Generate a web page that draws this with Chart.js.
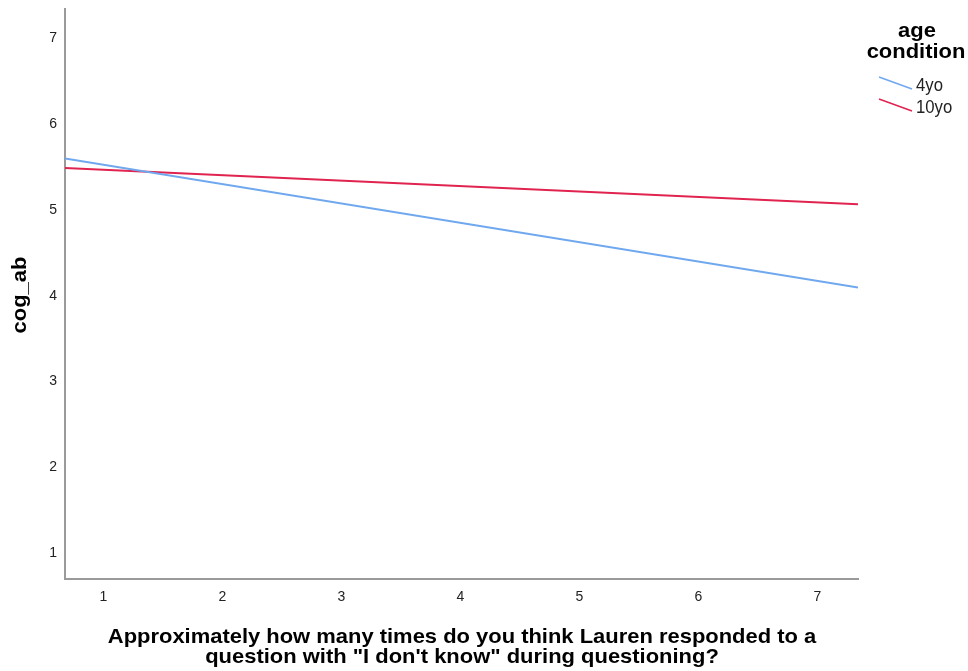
<!DOCTYPE html>
<html>
<head>
<meta charset="utf-8">
<script src="https://cdn.jsdelivr.net/npm/chart.js@4.4.0/dist/chart.umd.min.js"></script>
<style>
  html, body { margin: 0; padding: 0; background: #fff; }
  #wrap { width: 968px; height: 671px; position: relative; }
</style>
</head>
<body>
<div id="wrap"><canvas id="c" width="968" height="671"></canvas></div>
<script>
// ===== Data =====
const xEnds     = [0.678, 7.342];      // fit lines span the whole x axis
const fourYo    = [5.60, 4.095];
const tenYo     = [5.488, 5.065];
const xTicks    = [1, 2, 3, 4, 5, 6, 7];
const yTicks    = [1, 2, 3, 4, 5, 6, 7];
const seriesNames = ['4yo', '10yo'];
const seriesColors = ['#6fa8ee', '#e0234f'];

const xTitle = ['Approximately how many times do you think Lauren responded to a',
                'question with "I don\'t know" during questioning?'];
const yTitle = 'cog_ab';
const legendTitle = ['age', 'condition'];

const FONT = '"Liberation Sans", Arial, sans-serif';

// draw text squeezed / stretched horizontally
function wideText(ctx, txt, x, y, sx) {
  ctx.save();
  ctx.translate(x, y);
  ctx.scale(sx, 1);
  ctx.fillText(txt, 0, 0);
  ctx.restore();
}

// ===== Titles + legend (SPSS style) =====
const decor = {
  id: 'decor',
  afterDraw(chart) {
    const ctx = chart.ctx;
    ctx.save();
    ctx.fillStyle = '#000';
    ctx.textAlign = 'center';
    ctx.textBaseline = 'alphabetic';
    ctx.font = 'bold 21px ' + FONT;
    wideText(ctx, xTitle[0], 462, 643, 1.045);
    wideText(ctx, xTitle[1], 462, 663, 1.045);

    ctx.save();
    ctx.translate(20, 295);
    ctx.rotate(-Math.PI / 2);
    ctx.textBaseline = 'middle';
    wideText(ctx, yTitle, 0, 0, 1.045);
    ctx.restore();

    // legend
    ctx.textBaseline = 'middle';
    wideText(ctx, legendTitle[0], 917, 31, 1.045);
    wideText(ctx, legendTitle[1], 916, 52, 1.045);
    ctx.textAlign = 'left';
    ctx.font = '19px ' + FONT;
    seriesNames.forEach((name, i) => {
      const y = 83 + i * 22;
      ctx.strokeStyle = seriesColors[i];
      ctx.lineWidth = 1.5;
      ctx.beginPath();
      ctx.moveTo(879, y - 6);
      ctx.lineTo(912, y + 6);
      ctx.stroke();
      ctx.fillStyle = '#222';
      wideText(ctx, name, 916, y + 3, 0.88);   // condensed look
    });
    ctx.restore();
  }
};

new Chart(document.getElementById('c'), {
  type: 'line',
  data: {
    datasets: [
      { label: seriesNames[0], data: xEnds.map((x, i) => ({ x, y: fourYo[i] })),
        borderColor: seriesColors[0], borderWidth: 2, pointRadius: 0, tension: 0 },
      { label: seriesNames[1], data: xEnds.map((x, i) => ({ x, y: tenYo[i] })),
        borderColor: seriesColors[1], borderWidth: 2, pointRadius: 0, tension: 0 }
    ]
  },
  options: {
    responsive: false,
    animation: false,
    layout: { padding: { top: 9, right: 110, left: 0, bottom: 0 } },
    plugins: { legend: { display: false }, tooltip: { enabled: false } },
    scales: {
      x: {
        type: 'linear', min: xEnds[0], max: xEnds[1],
        afterBuildTicks: s => { s.ticks = xTicks.map(v => ({ value: v })); },
        afterFit: s => { s.height = 92; s.paddingLeft = 0; s.paddingRight = 0; },
        grid: { display: false, drawTicks: false },
        border: { display: true, color: '#9a9a9a', width: 2 },
        ticks: { color: '#222', font: { family: FONT, size: 14 }, padding: 10, maxRotation: 0 }
      },
      y: {
        type: 'linear', min: 0.70, max: 7.34,
        afterBuildTicks: s => { s.ticks = yTicks.map(v => ({ value: v })); },
        afterFit: s => { s.width = 65; s.paddingTop = 0; s.paddingBottom = 0; },
        grid: { display: false, drawTicks: false },
        border: { display: true, color: '#9a9a9a', width: 2 },
        ticks: { color: '#222', font: { family: FONT, size: 14 }, padding: 8 }
      }
    }
  },
  plugins: [decor]
});
</script>
</body>
</html>
